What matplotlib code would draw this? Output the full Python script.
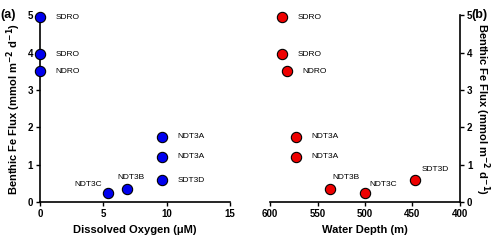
import matplotlib.pyplot as plt

plt.rcParams['font.family'] = ['Liberation Sans', 'DejaVu Sans']

# data
stations = ["SDRO", "SDRO", "NDRO", "NDT3A", "NDT3A", "SDT3D", "NDT3C", "NDT3B"]
fe_flux = [4.94, 3.95, 3.50, 1.74, 1.21, 0.58, 0.23, 0.36]
oxygen = [0.0, 0.0, 0.0, 9.65, 9.65, 9.65, 5.35, 6.85]
depth = [587, 587, 582, 573, 573, 447, 500, 537]

# label offsets in points + alignment
off_a = [(11, 0, "left"), (11, 0, "left"), (11, 0, "left"), (11, 0, "left"),
         (11, 0, "left"), (11, 0, "left"), (-4, 6.5, "right"), (3, 8, "center")]
off_b = [(11, 0, "left"), (11, 0, "left"), (11, 0, "left"), (11, 0, "left"),
         (11, 0, "left"), (4.5, 8, "left"), (3, 6.5, "left"), (1.5, 8, "left")]

fig = plt.figure(figsize=(5, 2.44), dpi=100)
ax1 = fig.add_axes([0.08, 0.172, 0.38, 0.766])
ax2 = fig.add_axes([0.54, 0.172, 0.38, 0.766])

ylab = "Benthic Fe Flux (mmol m$^{\\mathbf{-2}}$ d$^{\\mathbf{-1}}$)"

#panel a
ax1.scatter(oxygen, fe_flux, s=55, c="#0000ee", edgecolors="black", linewidths=0.8, zorder=3, clip_on=False)
for name, x, y, (dx, dy, ha) in zip(stations, oxygen, fe_flux, off_a):
    ax1.annotate(name, (x, y), xytext=(dx, dy), textcoords="offset points", fontsize=6, va="center", ha=ha)
ax1.set_xlim(0, 15)
ax1.set_ylim(0, 5)
ax1.set_xticks([0, 5, 10, 15])
ax1.set_yticks([0, 1, 2, 3, 4, 5])
ax1.spines["top"].set_visible(False)
ax1.spines["right"].set_visible(False)
ax1.set_xlabel("Dissolved Oxygen (μM)", fontsize=8, fontweight="bold")
ax1.set_ylabel(ylab, fontsize=8, fontweight="bold", labelpad=3)
ax1.text(-0.21, 1.0, "(a)", transform=ax1.transAxes, fontsize=9, fontweight="bold", va="center")

#panel b
ax2.scatter(depth, fe_flux, s=55, c="#ee0000", edgecolors="black", linewidths=0.8, zorder=3, clip_on=False)
for name, x, y, (dx, dy, ha) in zip(stations, depth, fe_flux, off_b):
    ax2.annotate(name, (x, y), xytext=(dx, dy), textcoords="offset points", fontsize=6, va="center", ha=ha)
ax2.set_xlim(600, 400)
ax2.set_ylim(0, 5)
ax2.set_xticks([600, 550, 500, 450, 400])
ax2.set_yticks([0, 1, 2, 3, 4, 5])
ax2.spines["top"].set_visible(False)
ax2.spines["left"].set_visible(False)
ax2.yaxis.tick_right()
ax2.yaxis.set_label_position("right")
ax2.set_xlabel("Water Depth (m)", fontsize=8, fontweight="bold")
ax2.set_ylabel(ylab, fontsize=8, fontweight="bold", rotation=270, labelpad=14)
ax2.text(1.06, 1.0, "(b)", transform=ax2.transAxes, fontsize=9, fontweight="bold", va="center")

for ax in (ax1, ax2):
    ax.tick_params(direction="out", length=3, width=1, labelsize=7, pad=2)
    for lab in ax.get_xticklabels() + ax.get_yticklabels():
        lab.set_fontweight("bold")
    for s in ax.spines.values():
        s.set_linewidth(1.2)

plt.savefig("out.png", dpi=100)
